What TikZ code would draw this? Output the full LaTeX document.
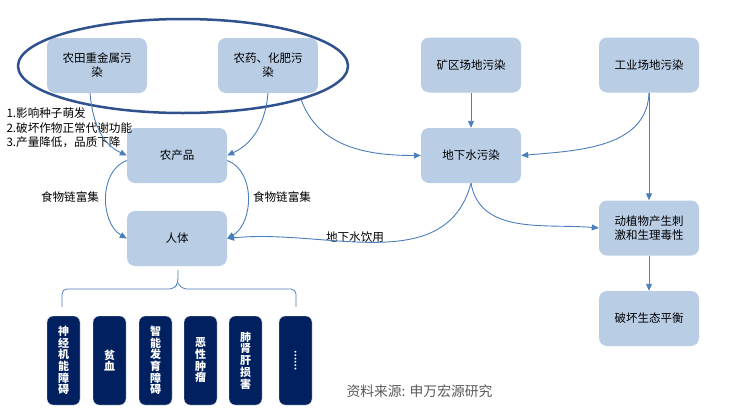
\documentclass[tikz,border=0pt]{standalone}
\usepackage{fontspec}
\setmainfont{Noto Sans CJK SC}
\usetikzlibrary{arrows.meta,shapes.geometric}
\definecolor{boxblue}{RGB}{185,205,229}
\definecolor{navy}{RGB}{0,32,96}
\definecolor{linkblue}{RGB}{74,126,187}
\definecolor{ringblue}{RGB}{47,82,143}
\begin{document}
\begin{tikzpicture}[x=1pt,y=-1pt,
	pbox/.style={fill=boxblue, rounded corners=8pt, minimum width=100pt, minimum height=55pt, align=center, font=\fontsize{11.5}{14}\selectfont, inner sep=0pt},
	dbox/.style={fill=navy, draw=white!85!gray, rounded corners=6pt, minimum width=33pt, minimum height=89pt, text=white, align=center, font=\fontsize{11}{11.7}\selectfont\bfseries, inner sep=0pt},
	arr/.style={draw=linkblue, line width=0.9pt, -{Triangle[length=7pt,width=6pt]}},
	brc/.style={draw=linkblue, line width=0.8pt, rounded corners=5pt},
	lbl/.style={font=\fontsize{11.6}{14.5}\selectfont}]
	\useasboundingbox (0,0) rectangle (736,410);

	% sources
	\node[pbox] (heavy) at (97,65.5) {农田重金属污\\染};
	\node[pbox] (pest) at (268,65.5) {农药、化肥污\\染};
	\node[draw=ringblue, line width=2.5pt, ellipse, minimum width=330pt, minimum height=94pt, inner sep=0pt] (ring) at (183,66) {};
	\node[pbox] (mine) at (471,65) {矿区场地污染};
	\node[pbox] (ind) at (649,65) {工业场地污染};

	\node[pbox] (crop) at (177,155.5) {农产品};
	\node[pbox] (water) at (471,155.5) {地下水污染};
	\node[pbox] (body) at (177,238.5) {人体};
	\node[pbox] (eco) at (649,228) {动植物产生刺\\激和生理毒性};
	\node[pbox] (bal) at (649,318.5) {破坏生态平衡};

	% diseases
	\node[dbox] (d1) at (63.5,360.5) {神\\经\\机\\能\\障\\碍};
	\node[dbox] (d2) at (109.5,360.5) {贫\\血};
	\node[dbox] (d3) at (155.5,360.5) {智\\能\\发\\育\\障\\碍};
	\node[dbox] (d4) at (200.5,360.5) {恶\\性\\肿\\瘤};
	\node[dbox] (d5) at (245.5,360.5) {肺\\肾\\肝\\损\\害};
	\node[dbox] (d6) at (295.5,360.5) {};
	\node[text=white, rotate=-90, font=\fontsize{9}{9}\selectfont\bfseries] (dots) at (d6) {……};

	\draw[brc] (62,307) -- (62,289) -- (174,289) -- (178,283) -- (178,270);
	\draw[brc] (296,307) -- (296,289) -- (182,289) -- (178,283);

	% texts
	\node[lbl, anchor=west, align=left] (hints) at (3,128) {1.影响种子萌发\\2.破坏作物正常代谢功能\\3.产量降低，品质下降};
	\node[lbl] (chainl) at (70,197) {食物链富集};
	\node[lbl] (chainr) at (282,197) {食物链富集};
	\node[lbl] (drink) at (355,237) {地下水饮用};
	\node[font=\fontsize{13.8}{16}\selectfont, text=black!65, anchor=west] (src) at (343,391) {资料来源: 申万宏源研究};

	% links
	\draw[arr] ([xshift=-7pt]heavy.south) to[out=-85,in=155] (crop.west);
	\draw[arr] (pest.south) to[out=-95,in=25] (crop.east);
	\draw[arr] ([yshift=-5pt]crop.west) to[out=200,in=150] (body.west);
	\draw[arr] ([yshift=-5pt]crop.east) to[out=-20,in=30] (body.east);
	\draw[arr] (ring.-16) to[out=-70,in=180] (water.west);
	\draw[arr] (mine.south) -- (water.north);
	\draw[arr] (ind.south) to[out=-92,in=5] (water.east);
	\draw[arr] (ind.south) -- (eco.north);
	\draw[arr] (water.south) to[out=-105,in=6] (body.east);
	\draw[arr] (water.south) to[out=-80,in=175] (eco.west);
	\draw[arr] (eco.south) -- (bal.north);
\end{tikzpicture}
\end{document}
